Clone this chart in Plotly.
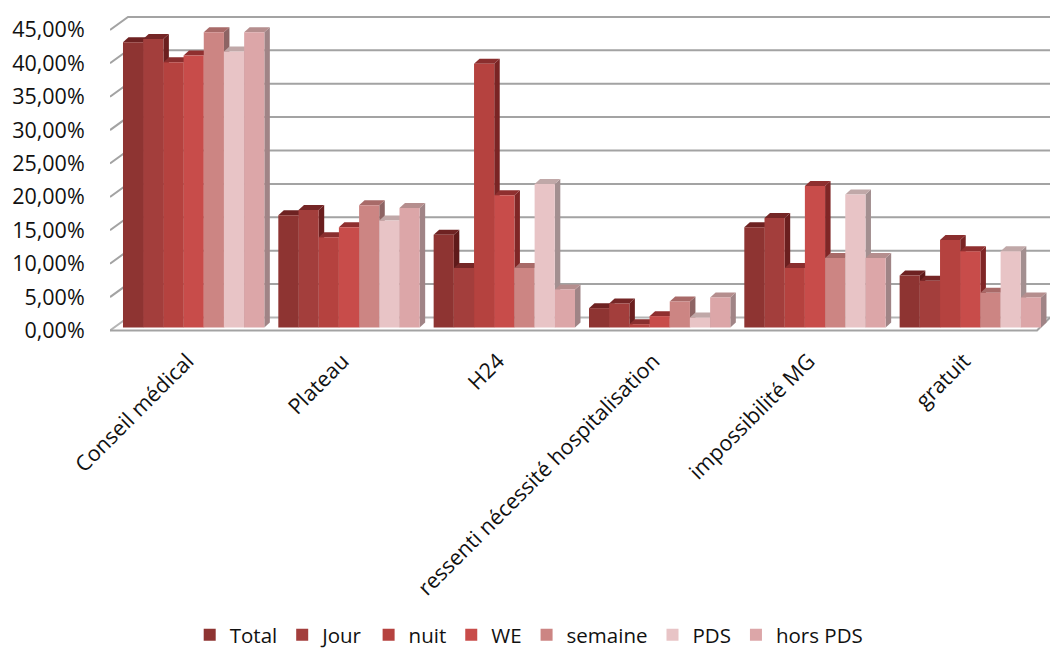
import plotly.graph_objects as go

categories = ["Conseil médical", "Plateau", "H24", "ressenti nécessité hospitalisation", "impossibilité MG", "gratuit"]
series_names = ["Total", "Jour", "nuit", "WE", "semaine", "PDS", "hors PDS"]
total = [42.7, 16.8, 13.9, 2.9, 15.0, 7.8]
jour = [43.2, 17.6, 8.9, 3.6, 16.4, 7.0]
nuit = [39.7, 13.5, 39.5, 0.5, 8.9, 13.1]
we = [40.7, 15.0, 19.8, 1.7, 21.2, 11.4]
semaine = [44.2, 18.3, 8.9, 3.9, 10.4, 5.2]
pds = [41.3, 16.0, 21.5, 1.5, 19.9, 11.4]
hors_pds = [44.2, 17.9, 5.7, 4.5, 10.4, 4.5]
all_values = [total, jour, nuit, we, semaine, pds, hors_pds]
colors = ["#8e3432", "#a33e3c", "#b5423f", "#c84c4a", "#cc8583", "#e8c4c6", "#dca6a8"]
side_colors = ["#5f1a1a", "#6b1f1f", "#7a2424", "#7f2626", "#8d6464", "#a38f90", "#a08486"]
top_colors = ["#6e2222", "#752626", "#8a2e2e", "#8f2f2f", "#a86a68", "#c0a8a8", "#b58e8e"]
ticks = [0, 5, 10, 15, 20, 25, 30, 35, 40, 45]
tick_labels = ["0,00%", "5,00%", "10,00%", "15,00%", "20,00%", "25,00%", "30,00%", "35,00%", "40,00%", "45,00%"]

W, H = 1050, 651
PX_X = 155.33
PX_Y = 6.68
y0_px = 330.5
x_left, x_right = 110, 1050
y_top, y_bot = 14, 332
band0 = 116
rx = [(x_left - band0) / PX_X - 0.5, (x_right - band0) / PX_X - 0.5]
ry = [(y0_px - y_bot) / PX_Y, (y0_px - y_top) / PX_Y]
lift = 3 / PX_Y
wall_dx, wall_dy = 18 / PX_X, 13 / PX_Y
bar_dx, bar_dy = 5.5 / PX_X, 5 / PX_Y
gap = 0.09
bw = (1 - gap) / 7
FONT = "Open Sans"
FS = 21.5

fig = go.Figure()
gx, gy = [], []
for t in ticks[1:]:
    gx += [rx[0], rx[0] + wall_dx, rx[1], None]
    gy += [t, t + wall_dy, t + wall_dy, None]
fig.add_trace(go.Scatter(x=gx, y=gy, mode="lines", line=dict(color="#a3a3a3", width=2), showlegend=False, hoverinfo="skip"))
fig.add_trace(go.Scatter(x=[rx[0], rx[0] + wall_dx, rx[1]], y=[0, wall_dy, wall_dy], mode="lines",
                         line=dict(color="#b5b5b5", width=2), showlegend=False, hoverinfo="skip"))
fig.add_trace(go.Scatter(x=[rx[0], rx[1] - 13 / PX_X, rx[1]], y=[0, 0, wall_dy], mode="lines",
                         line=dict(color="#a3a3a3", width=2), showlegend=False, hoverinfo="skip"))

for g in range(len(categories)):
    for j, vals in enumerate(all_values):
        v = vals[g] + lift
        x0 = g + (j - 3.5) * bw
        x1 = x0 + bw
        base = lift
        fig.add_trace(go.Scatter(x=[x1, x1 + bar_dx, x1 + bar_dx, x1, x1], y=[base, base + bar_dy, v + bar_dy, v, base],
                                 mode="lines", fill="toself", fillcolor=side_colors[j], line=dict(width=0),
                                 showlegend=False, hoverinfo="skip"))
        fig.add_trace(go.Scatter(x=[x0, x0 + bar_dx, x1 + bar_dx, x1, x0], y=[v, v + bar_dy, v + bar_dy, v, v],
                                 mode="lines", fill="toself", fillcolor=top_colors[j], line=dict(width=0),
                                 showlegend=False, hoverinfo="skip"))

xs = list(range(len(categories)))
for name, vals, c in zip(series_names, all_values, colors):
    fig.add_trace(go.Bar(name=name, x=xs, y=vals, marker=dict(color=c, line=dict(width=0)), xaxis="x", yaxis="y2"))

fig.update_layout(
    width=W, height=H, autosize=False,
    margin=dict(l=0, r=0, t=0, b=0, autoexpand=False),
    paper_bgcolor="white", plot_bgcolor="white",
    barmode="group", bargap=gap, bargroupgap=0,
    font=dict(family=FONT, size=FS, color="#111111"),
    xaxis=dict(domain=[x_left / W, x_right / W], range=rx, tickmode="array", tickvals=[x - 0.04 for x in xs], ticktext=categories,
               tickangle=-45, showgrid=False, zeroline=False, showline=False, ticks="outside", ticklen=7,
               tickcolor="rgba(0,0,0,0)", anchor="y", automargin=False),
    yaxis=dict(domain=[1 - y_bot / H, 1 - y_top / H], range=ry, tickmode="array", tickvals=ticks, ticktext=tick_labels,
               showgrid=False, zeroline=False, showline=False, ticks="outside", ticklen=20,
               tickcolor="rgba(0,0,0,0)", anchor="x", automargin=False),
    yaxis2=dict(overlaying="y", range=[ry[0] - lift, ry[1] - lift], visible=False, anchor="x"),
    legend=dict(orientation="h", x=0.504, xanchor="center", y=-0.006, yanchor="bottom", font=dict(size=20.5),
                bgcolor="rgba(0,0,0,0)", traceorder="normal"),
)
fig.write_html("out.html", post_script="document.body.style.margin='0';", config={"displayModeBar": False})
